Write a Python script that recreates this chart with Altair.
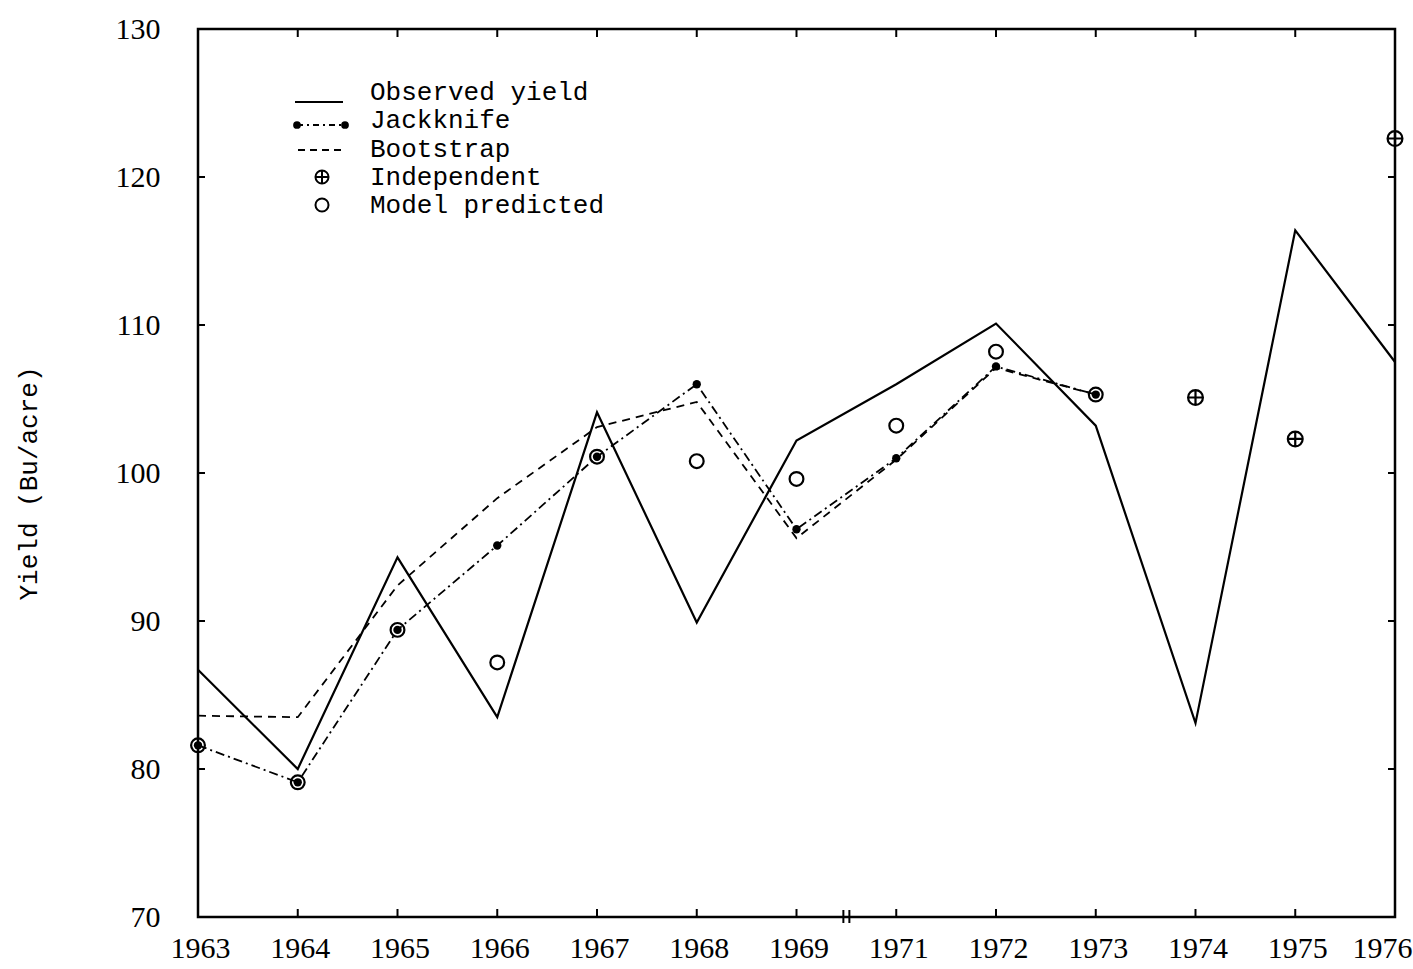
import altair as alt
import pandas as pd

# ---- data ----
years = ["1963", "1964", "1965", "1966", "1967", "1968", "1969",
         "1971", "1972", "1973", "1974", "1975", "1976"]
observed = [86.7, 80.0, 94.3, 83.5, 104.1, 89.9, 102.2, 106.0, 110.1, 103.2, 83.1, 116.4, 107.5]

jack_years = ["1963", "1964", "1965", "1966", "1967", "1968", "1969", "1971", "1972", "1973"]
jackknife = [81.6, 79.1, 89.4, 95.1, 101.1, 106.0, 96.2, 101.0, 107.2, 105.3]

boot_years = ["1963", "1964", "1965", "1966", "1967", "1968", "1969", "1971", "1972", "1973"]
bootstrap = [83.6, 83.5, 92.4, 98.3, 103.1, 104.8, 95.6, 100.9, 107.1, 105.3]

indep_years = ["1974", "1975", "1976"]
independent = [105.1, 102.3, 122.6]

model_years = ["1963", "1964", "1965", "1966", "1967", "1968", "1969", "1971", "1972", "1973"]
model = [81.6, 79.1, 89.4, 87.2, 101.1, 100.8, 99.6, 103.2, 108.2, 105.3]

y_ticks = [70, 80, 90, 100, 110, 120, 130]
legend_labels = ["Observed yield", "Jackknife", "Bootstrap", "Independent", "Model predicted"]

# ---- frames ----
def frame(yrs, vals):
    return pd.DataFrame({"idx": [years.index(y) for y in yrs], "year": yrs, "value": vals})

obs_df = frame(years, observed)
jack_df = frame(jack_years, jackknife)
boot_df = frame(boot_years, bootstrap)
ind_df = frame(indep_years, independent)
mod_df = frame(model_years, model)
xt_df = pd.DataFrame({"idx": list(range(1, len(years) - 1))})
yt_df = pd.DataFrame({"v": y_ticks[1:-1]})

W, H = 1197, 888
last = len(years) - 1
label_arr = "[" + ",".join("'" + y + "'" for y in years) + "]"

xscale = alt.Scale(domain=[0, last], nice=False, zero=False)
yscale = alt.Scale(domain=[70, 130], nice=False, zero=False)

serif = "Liberation Serif"
mono = "Liberation Mono"

x_axis = alt.Axis(values=list(range(len(years))), labelExpr=label_arr + "[datum.value]",
                  ticks=False, domain=False, grid=False, title=None,
                  labelFlush=False, labelOverlap=False, labelBound=False,
                  labelOffset={"condition": {"test": "datum.value == %d" % last, "value": -13},
                               "value": 2},
                  labelFont=serif, labelFontSize=30, labelPadding=16, labelColor="black")
y_axis = alt.Axis(values=y_ticks, ticks=False, domain=False, grid=False,
                  labelFlush=False, labelOverlap=False,
                  title="Yield (Bu/acre)", titleFont=mono, titleFontSize=26,
                  titleFontWeight="normal", titleColor="black",
                  titleX=-170, titleY=454, titleAngle=-90,
                  titleAlign="center", titleBaseline="middle",
                  labelFont=serif, labelFontSize=30, labelPadding=38, labelColor="black")

X = alt.X("idx:Q", scale=xscale, axis=x_axis)
Y = alt.Y("value:Q", scale=yscale, axis=y_axis)

obs_line = alt.Chart(obs_df).mark_line(color="black", strokeWidth=2.2).encode(x=X, y=Y)
boot_line = alt.Chart(boot_df).mark_line(color="black", strokeWidth=1.8,
                                         strokeDash=[8, 6]).encode(x=X, y=Y)
jack_line = alt.Chart(jack_df).mark_line(color="black", strokeWidth=1.8,
                                         strokeDash=[9, 4, 2, 4]).encode(x=X, y=Y)
jack_pts = alt.Chart(jack_df).mark_point(filled=True, color="black", size=70,
                                         shape="circle", opacity=1).encode(x=X, y=Y)
mod_pts = alt.Chart(mod_df).mark_point(filled=False, color="black", size=190,
                                       strokeWidth=2.2, shape="circle", opacity=1).encode(x=X, y=Y)
oplus = "M-1,0A1,1,0,1,0,1,0A1,1,0,1,0,-1,0M-1,0L1,0M0,-1L0,1"
ind_pts = alt.Chart(ind_df).mark_point(filled=False, color="black", size=220,
                                       strokeWidth=2.2, shape=oplus, opacity=1).encode(x=X, y=Y)

# inward ticks
bt = alt.Chart(xt_df).mark_rule(color="black", strokeWidth=2).encode(
    x=alt.X("idx:Q", scale=xscale), y=alt.value(H), y2=alt.value(H - 8))
tt = alt.Chart(xt_df).mark_rule(color="black", strokeWidth=2).encode(
    x=alt.X("idx:Q", scale=xscale), y=alt.value(0), y2=alt.value(8))
lt = alt.Chart(yt_df).mark_rule(color="black", strokeWidth=2).encode(
    y=alt.Y("v:Q", scale=yscale), x=alt.value(0), x2=alt.value(7))
rt = alt.Chart(yt_df).mark_rule(color="black", strokeWidth=2).encode(
    y=alt.Y("v:Q", scale=yscale), x=alt.value(W), x2=alt.value(W - 7))

# axis break marks between 1969 and 1971
brk = alt.Chart(pd.DataFrame({"b": [6.5]})).mark_rule(color="black", strokeWidth=2)
brk1 = brk.encode(x=alt.X("b:Q", scale=xscale), y=alt.value(H - 7), y2=alt.value(H + 6),
                  xOffset=alt.value(-3))
brk2 = brk.encode(x=alt.X("b:Q", scale=xscale), y=alt.value(H - 7), y2=alt.value(H + 6),
                  xOffset=alt.value(3))

# ---- legend ----
one = pd.DataFrame({"k": [0]})
lx0, lx1, sx, tx = 97, 145, 124, 172
leg = []
leg.append(alt.Chart(one).mark_rule(color="black", strokeWidth=2).encode(
    x=alt.value(lx0), x2=alt.value(lx1), y=alt.value(73)))
leg.append(alt.Chart(one).mark_rule(color="black", strokeWidth=1.8, strokeDash=[6, 4, 2, 4]).encode(
    x=alt.value(lx0 + 2), x2=alt.value(lx1 + 2), y=alt.value(96)))
for px in (lx0 + 2, lx1 + 2):
    leg.append(alt.Chart(one).mark_point(filled=True, color="black", size=60, opacity=1).encode(
        x=alt.value(px), y=alt.value(96)))
leg.append(alt.Chart(one).mark_rule(color="black", strokeWidth=1.8, strokeDash=[7, 5]).encode(
    x=alt.value(lx0 + 3), x2=alt.value(lx1), y=alt.value(121)))
leg.append(alt.Chart(one).mark_point(filled=False, color="black", size=170, strokeWidth=2,
                                     shape=oplus, opacity=1).encode(
    x=alt.value(sx), y=alt.value(148)))
leg.append(alt.Chart(one).mark_point(filled=False, color="black", size=170, strokeWidth=2,
                                     shape="circle", opacity=1).encode(
    x=alt.value(sx), y=alt.value(176)))
baselines = [71, 99, 128, 156, 184]
for lab, by in zip(legend_labels, baselines):
    leg.append(alt.Chart(one).mark_text(text=lab, font=mono, fontSize=26, align="left",
                                        baseline="alphabetic", color="black").encode(
        x=alt.value(tx), y=alt.value(by)))

chart = alt.layer(
    obs_line, boot_line, jack_line, mod_pts, jack_pts, ind_pts,
    bt, tt, lt, rt, brk1, brk2, *leg
).properties(
    width=W, height=H,
    autosize=alt.AutoSizeParams(type="none"),
    padding={"left": 198, "top": 29, "right": 18, "bottom": 52},
    background="white",
).configure_view(stroke="black", strokeWidth=2.5)

chart.save("out.html", embed_options={"renderer": "svg", "actions": False})
